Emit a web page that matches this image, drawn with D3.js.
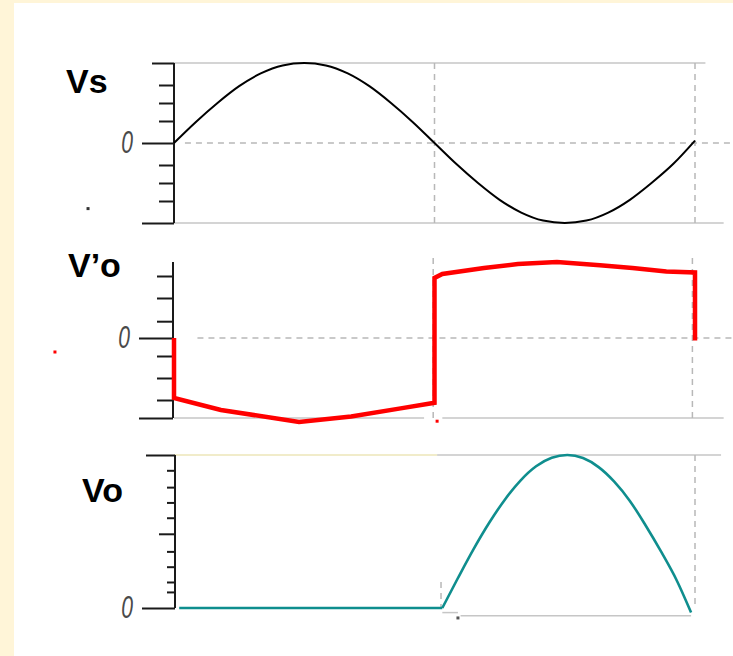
<!DOCTYPE html>
<html>
<head>
<meta charset="utf-8">
<script src="https://cdn.jsdelivr.net/npm/d3@7/dist/d3.min.js"></script>
<style>
  html, body { margin: 0; padding: 0; background: #ffffff; }
  svg { display: block; }
</style>
</head>
<body>
<svg id="chart" width="733" height="656"></svg>
<script>
// ---------- DATA (time in units of pi, values normalised) ----------
const panelLabels = ["Vs", "V\u2019o", "Vo"];
const zeroLabel = "0";

// Vs : source sine
const vsT = [0, 0.083, 0.167, 0.25, 0.333, 0.417, 0.5, 0.583, 0.667, 0.75, 0.833, 0.917, 1,
             1.083, 1.167, 1.25, 1.333, 1.417, 1.5, 1.583, 1.667, 1.75, 1.833, 1.917, 2];
const vsV = [0, 0.26, 0.5, 0.71, 0.87, 0.97, 1, 0.97, 0.87, 0.71, 0.5, 0.26, 0,
             -0.26, -0.5, -0.71, -0.87, -0.97, -1, -0.97, -0.87, -0.71, -0.5, -0.26, 0.03];

// V'o : square-ish output
const voPrimeT = [0, 0, 0.18, 0.48, 0.68, 0.87, 1.0, 1.0, 1.03, 1.19, 1.32, 1.47, 1.635, 1.76, 1.89, 2.0, 2.0];
const voPrimeV = [0, -0.75, -0.9, -1.05, -0.98, -0.88, -0.81, 0.75, 0.8, 0.875, 0.925, 0.95, 0.91, 0.875, 0.83, 0.82, -0.03];

// Vo : half-wave output (flat part, then the hump)
const voFlatT = [0.02, 1.03];
const voFlatV = [0, 0];
const voHumpT = [1.03, 1.09, 1.15, 1.21, 1.27, 1.33, 1.39, 1.45, 1.51, 1.57, 1.63, 1.69, 1.75, 1.81, 1.87, 1.93, 1.985];
const voHumpV = [0, 0.196, 0.385, 0.557, 0.708, 0.833, 0.926, 0.982, 1.0, 0.98, 0.921, 0.826, 0.70, 0.541, 0.368, 0.18, -0.03];

// axis ticks
const p1Minor = [-0.725, -0.5, -0.275, 0.275, 0.5, 0.725];
const p1Major = [-1, 0];
const p1Top = [1];
const p2Minor = [-0.775, -0.5, -0.225, 0.21, 0.5, 0.775];
const p2Major = [-1, 0];
const p3Minor = [0.105, 0.17, 0.27, 0.37, 0.59, 0.69, 0.79, 0.9];
const p3Mid = [0.485];
const p3Major = [0];
const p3Top = [1];

// stray specks on the original picture [t, value, panel]
const specksT = [-0.33, -0.457, 1.01, 1.09];
const specksV = [-0.82, -0.175, -1.04, -0.065];
const specksPanel = [1, 2, 2, 3];
const specksColor = ["#333", "#ff0000", "#ff0000", "#555"];

// ---------- DRAWING ----------
const svg = d3.select("#chart");
const W = 733, H = 656;

svg.append("rect").attr("x", 0).attr("y", 0).attr("width", W).attr("height", H).attr("fill", "#ffffff");
svg.append("rect").attr("x", 0).attr("y", 0).attr("width", 14).attr("height", H).attr("fill", "#fff5d8");
svg.append("rect").attr("x", 0).attr("y", 0).attr("width", W).attr("height", 3).attr("fill", "#fff5d8");

const x = d3.scaleLinear().domain([0, 2]).range([174, 695]);
const y1 = d3.scaleLinear().domain([-1, 1]).range([223, 63]);
const y2 = d3.scaleLinear().domain([-1, 1]).range([418, 258]);
const y3 = d3.scaleLinear().domain([0, 1]).range([608, 455]);
const yScales = {1: y1, 2: y2, 3: y3};

const GRID = "#c6c6c6";
const DASH = "#b8b8b8";

function hline(y, t0, t1, color, dashed, width) {
  svg.append("line")
    .attr("x1", x(t0)).attr("x2", x(t1)).attr("y1", y).attr("y2", y)
    .attr("stroke", color).attr("stroke-width", width || 1.5)
    .attr("stroke-dasharray", dashed ? "6,5" : null);
}
function vline(t, ya, yb, color, dashed) {
  svg.append("line")
    .attr("x1", x(t)).attr("x2", x(t)).attr("y1", ya).attr("y2", yb)
    .attr("stroke", color).attr("stroke-width", 1.5)
    .attr("stroke-dasharray", dashed ? "6,5" : null);
}

// ---- panel 1 grid ----
hline(y1(1), 0, 2.04, GRID, false);
hline(y1(-1), 0, 2.11, GRID, false);
hline(y1(0), 0.042, 2.25, DASH, true);
vline(1, y1(1), y1(-1), DASH, true);
vline(2, y1(1), y1(-1), DASH, true);

// ---- panel 2 grid ----
hline(y2(0), 0.09, 2.25, DASH, true);
hline(y2(-1), 0, 0.96, GRID, false);
hline(y2(-1), 1.03, 2.11, GRID, false);
vline(0.995, y2(1), y2(-1), DASH, true);
vline(1.99, y2(1), y2(-1), DASH, true);

// ---- panel 3 grid ----
hline(y3(1), 0, 1.01, "#ece6b8", false);
hline(y3(1), 1.01, 2.1, GRID, false);
hline(y3(-0.05), 1.1, 1.985, GRID, false);
hline(y3(-0.03), 1.03, 1.09, GRID, false);
vline(1.025, y3(0.17), y3(0), DASH, true);
vline(2.0, y3(1), y3(0), DASH, true);

// ---- axes ----
const LABEL_SCALE = 0.66;
function axis(scale, values, size, labelled, xpos, y0, y1v, showDomain) {
  const ax = d3.axisLeft(scale).tickValues(values).tickSize(size).tickSizeOuter(0)
    .tickPadding(9)
    .tickFormat(labelled ? (d => d === 0 ? zeroLabel : "") : () => "");
  const g = svg.append("g").attr("transform", `translate(${xpos},0)`).call(ax);
  g.select(".domain").remove();
  g.selectAll(".tick line").attr("stroke", "#1a1a1a").attr("stroke-width", 2);
  g.selectAll(".tick text")
    .style("font-family", "'Liberation Sans', Arial, sans-serif")
    .style("font-style", "italic")
    .style("font-size", "32px")
    .attr("fill", "#4a4a4a")
    .attr("dy", "0.30em")
    .attr("transform", `scale(${LABEL_SCALE},1)`)
    .attr("x", (-size - 9) / LABEL_SCALE);
  if (showDomain) {
    g.append("line").attr("x1", 0).attr("x2", 0).attr("y1", y0).attr("y2", y1v)
      .attr("stroke", "#1a1a1a").attr("stroke-width", 2);
  }
  return g;
}

axis(y1, p1Minor, 15, false, 174, 0, 0, false);
axis(y1, p1Major, 32, true, 174, 0, 0, false);
axis(y1, p1Top, 22, false, 174, y1(1), y1(-1), true);

axis(y2, p2Minor, 16, false, 173, 0, 0, false);
axis(y2, p2Major, 34, true, 173, y2(0.95), y2(-1), true);

axis(y3, p3Minor, 8, false, 175, 0, 0, false);
axis(y3, p3Mid, 16, false, 175, 0, 0, false);
axis(y3, p3Top, 29, false, 175, 0, 0, false);
axis(y3, p3Major, 33, true, 175, y3(1), y3(0), true);
// the last zero label is partly eaten in the original
svg.append("rect").attr("x", 115).attr("y", y3(0) - 5).attr("width", 6).attr("height", 9).attr("fill", "#ffffff");

// ---- curves ----
const line = (ys) => d3.line().x(d => x(d[0])).y(d => ys(d[1]));

svg.append("path")
  .datum(vsT.map((t, i) => [t, vsV[i]]))
  .attr("d", line(y1).curve(d3.curveMonotoneX))
  .attr("fill", "none").attr("stroke", "#000").attr("stroke-width", 2);

svg.append("path")
  .datum(voPrimeT.map((t, i) => [t, voPrimeV[i]]))
  .attr("d", line(y2))
  .attr("fill", "none").attr("stroke", "#ff0000").attr("stroke-width", 4.5)
  .attr("stroke-linejoin", "miter");

svg.append("path")
  .datum(voFlatT.map((t, i) => [t, voFlatV[i]]))
  .attr("d", line(y3))
  .attr("fill", "none").attr("stroke", "#0f8e8e").attr("stroke-width", 2.6);
svg.append("path")
  .datum(voHumpT.map((t, i) => [t, voHumpV[i]]))
  .attr("d", line(y3).curve(d3.curveMonotoneX))
  .attr("fill", "none").attr("stroke", "#0f8e8e").attr("stroke-width", 2.6);

// ---- specks ----
specksT.forEach((t, i) => {
  const ys = yScales[specksPanel[i]];
  svg.append("rect")
    .attr("x", x(t) - 1.5).attr("y", ys(specksV[i]) - 1.5)
    .attr("width", 3).attr("height", 3).attr("fill", specksColor[i]);
});

// ---- labels ----
const labelPos = [[66, 93], [68, 277], [82, 502]];
panelLabels.forEach((s, i) => {
  svg.append("text")
    .attr("x", labelPos[i][0]).attr("y", labelPos[i][1])
    .attr("font-family", "'Liberation Sans', Arial, sans-serif")
    .attr("font-weight", "bold")
    .attr("font-size", 34)
    .attr("fill", "#000")
    .text(s);
});
</script>
</body>
</html>
